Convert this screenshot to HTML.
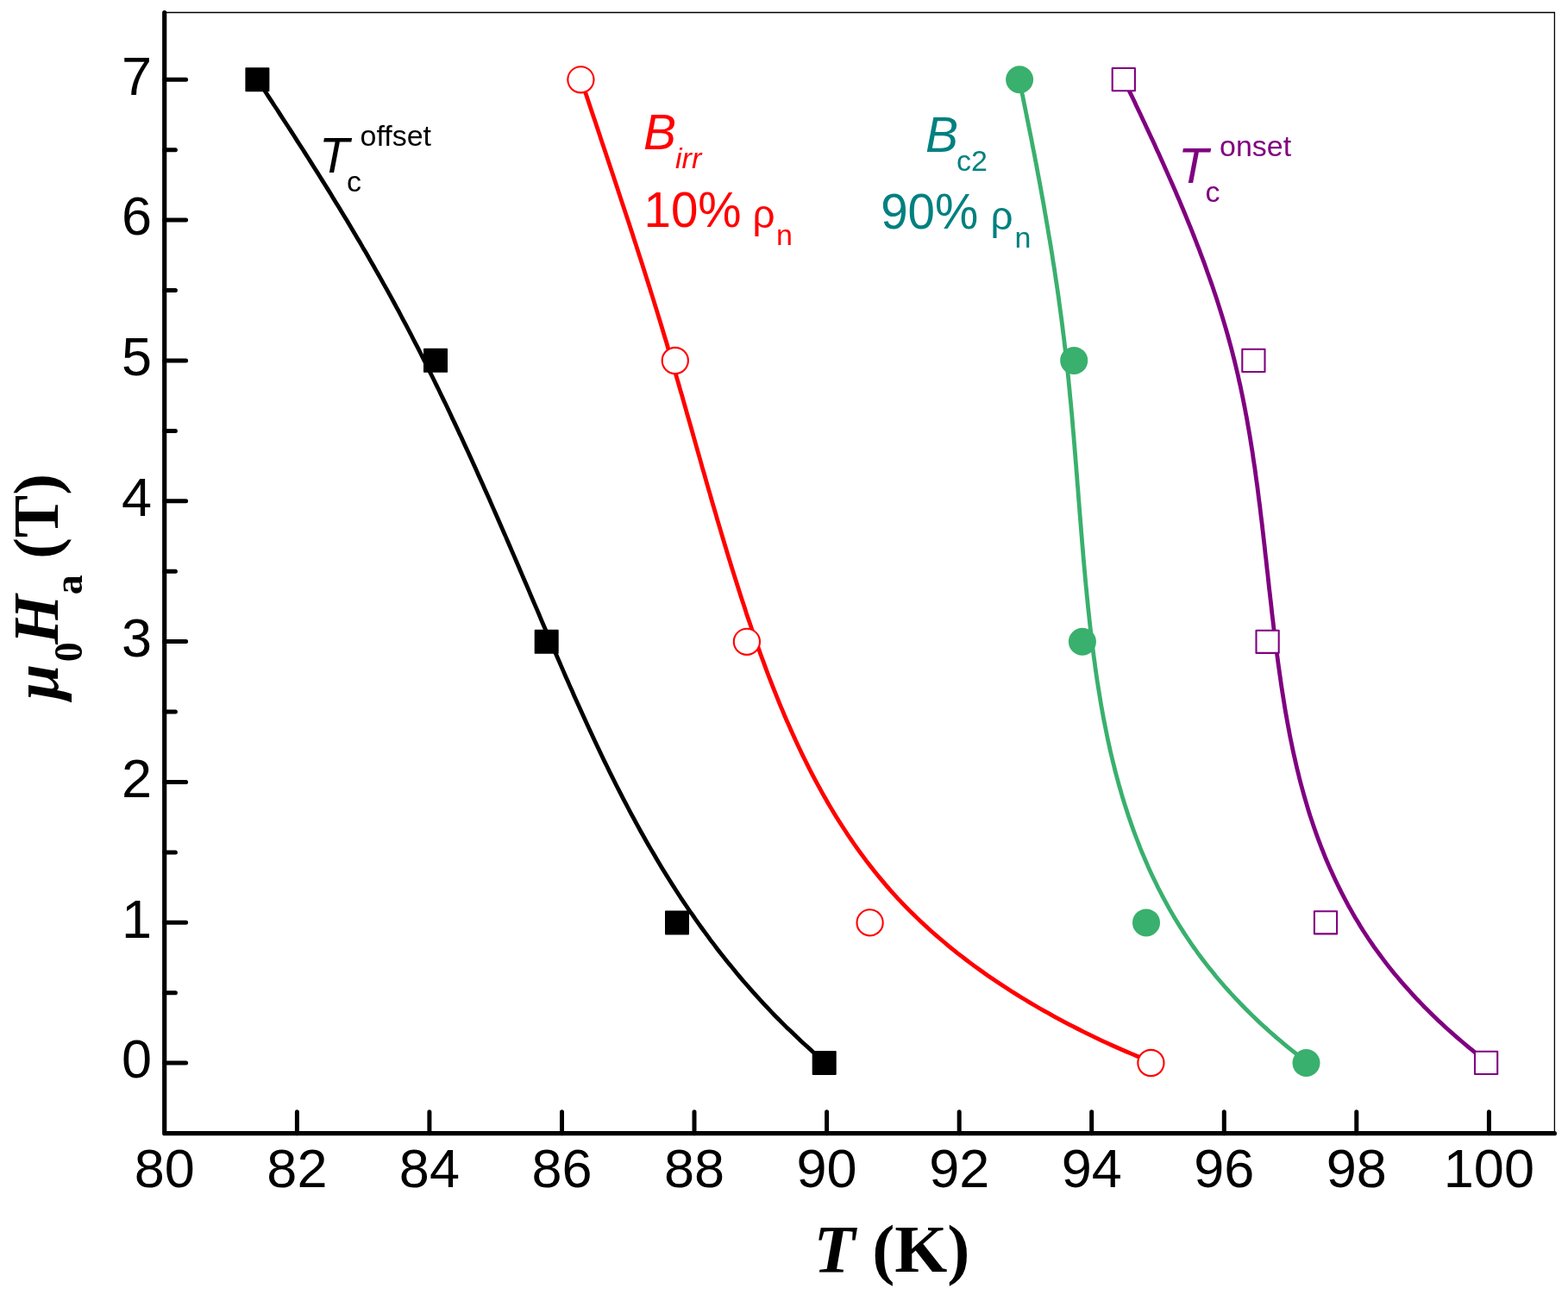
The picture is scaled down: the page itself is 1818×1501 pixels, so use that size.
<!DOCTYPE html>
<html><head><meta charset="utf-8"><title>Critical fields vs temperature</title>
<style>
html,body{margin:0;padding:0;background:#fff;}
svg{display:block;}
.s{font-family:"Liberation Sans",Arial,sans-serif;}
.r{font-family:"Liberation Serif","Times New Roman",serif;font-weight:bold;}
</style></head><body>
<svg width="1818" height="1501" viewBox="0 0 1818 1501">
<rect width="1818" height="1501" fill="#fff"/>
<path d="M190.7,14.5 H1802.4 V1313.7" fill="none" stroke="#000" stroke-width="1.3"/>
<path d="M298.4,92.2 L301.7,97.2 L305.0,102.3 L308.3,107.3 L311.6,112.4 L314.9,117.4 L318.2,122.5 L321.6,127.5 L324.8,132.6 L328.1,137.7 L331.4,142.7 L334.7,147.8 L338.0,152.9 L341.3,158.0 L344.5,163.1 L347.8,168.2 L351.1,173.3 L354.3,178.4 L357.6,183.5 L360.8,188.6 L364.0,193.7 L367.3,198.9 L370.5,204.0 L373.7,209.1 L376.9,214.3 L380.1,219.4 L383.3,224.6 L386.4,229.7 L389.6,234.9 L392.8,240.1 L395.9,245.2 L399.1,250.4 L402.2,255.6 L405.3,260.8 L408.4,266.0 L411.5,271.2 L414.6,276.4 L417.7,281.6 L420.7,286.9 L423.8,292.1 L426.8,297.3 L429.8,302.6 L432.8,307.8 L435.8,313.1 L438.8,318.3 L441.8,323.6 L444.7,328.9 L447.7,334.1 L450.6,339.4 L453.5,344.7 L456.4,350.0 L459.3,355.3 L462.2,360.7 L465.0,366.0 L467.8,371.3 L470.7,376.7 L473.5,382.0 L476.3,387.3 L479.0,392.7 L481.8,398.1 L484.6,403.4 L487.3,408.8 L490.0,414.2 L492.8,419.6 L495.5,425.0 L498.1,430.4 L500.8,435.8 L503.5,441.2 L506.1,446.6 L508.8,452.0 L511.4,457.5 L514.0,462.9 L516.7,468.3 L519.3,473.8 L521.9,479.2 L524.4,484.7 L527.0,490.1 L529.6,495.6 L532.1,501.1 L534.7,506.5 L537.2,512.0 L539.7,517.5 L542.3,523.0 L544.8,528.5 L547.3,534.0 L549.8,539.5 L552.3,545.0 L554.7,550.5 L557.2,556.0 L559.7,561.5 L562.1,567.0 L564.6,572.6 L567.1,578.1 L569.5,583.6 L571.9,589.1 L574.4,594.7 L576.8,600.2 L579.2,605.8 L581.6,611.3 L584.1,616.9 L586.5,622.4 L588.9,628.0 L591.3,633.5 L593.7,639.1 L596.1,644.6 L598.5,650.2 L600.9,655.8 L603.2,661.3 L605.6,666.9 L608.0,672.5 L610.4,678.0 L612.8,683.6 L615.1,689.2 L617.5,694.8 L619.9,700.4 L622.3,705.9 L624.7,711.5 L627.0,717.1 L629.4,722.7 L631.8,728.3 L634.2,733.8 L636.6,739.4 L639.0,745.0 L641.4,750.6 L643.8,756.2 L646.2,761.7 L648.6,767.3 L651.0,772.9 L653.4,778.4 L655.8,784.0 L658.3,789.5 L660.7,795.1 L663.2,800.6 L665.6,806.2 L668.1,811.7 L670.6,817.2 L673.1,822.8 L675.6,828.3 L678.1,833.8 L680.6,839.3 L683.1,844.8 L685.7,850.3 L688.2,855.8 L690.8,861.3 L693.4,866.7 L696.0,872.2 L698.6,877.7 L701.2,883.1 L703.9,888.5 L706.5,894.0 L709.2,899.4 L711.9,904.8 L714.6,910.2 L717.4,915.6 L720.1,920.9 L722.9,926.3 L725.7,931.7 L728.5,937.0 L731.3,942.3 L734.2,947.6 L737.0,952.9 L739.9,958.2 L742.8,963.5 L745.8,968.8 L748.7,974.0 L751.7,979.2 L754.7,984.4 L757.8,989.6 L760.8,994.8 L763.9,1000.0 L767.0,1005.2 L770.1,1010.3 L773.3,1015.4 L776.5,1020.5 L779.7,1025.6 L783.0,1030.7 L786.2,1035.7 L789.5,1040.8 L792.9,1045.8 L796.2,1050.8 L799.6,1055.8 L803.1,1060.7 L806.5,1065.7 L810.0,1070.6 L813.5,1075.5 L817.1,1080.4 L820.6,1085.2 L824.2,1090.1 L827.9,1094.9 L831.5,1099.7 L835.2,1104.5 L839.0,1109.2 L842.7,1113.9 L846.5,1118.6 L850.4,1123.3 L854.2,1128.0 L858.1,1132.6 L862.0,1137.2 L866.0,1141.8 L870.0,1146.3 L874.0,1150.8 L878.1,1155.3 L882.2,1159.8 L886.3,1164.3 L890.4,1168.7 L894.6,1173.1 L898.8,1177.5 L903.1,1181.8 L907.4,1186.1 L911.7,1190.4 L916.1,1194.6 L920.5,1198.8 L924.9,1203.0 L929.3,1207.2 L933.8,1211.3 L938.4,1215.4 L942.9,1219.5 L947.5,1223.5 L952.2,1227.5 L955.7,1232.0" fill="none" stroke="#000" stroke-width="4.8" stroke-linejoin="round" stroke-linecap="butt"/>
<path d="M673.4,92.3 L675.7,98.2 L677.7,104.2 L679.7,110.1 L681.7,116.0 L683.7,122.0 L685.7,127.9 L687.7,133.9 L689.7,139.8 L691.7,145.8 L693.7,151.7 L695.7,157.7 L697.6,163.7 L699.6,169.6 L701.6,175.6 L703.6,181.6 L705.6,187.5 L707.6,193.5 L709.6,199.5 L711.6,205.5 L713.6,211.4 L715.6,217.4 L717.5,223.4 L719.5,229.4 L721.5,235.4 L723.5,241.4 L725.4,247.3 L727.4,253.3 L729.4,259.3 L731.3,265.3 L733.3,271.3 L735.2,277.3 L737.2,283.3 L739.1,289.3 L741.0,295.3 L743.0,301.3 L744.9,307.3 L746.8,313.3 L748.7,319.3 L750.6,325.3 L752.5,331.3 L754.4,337.4 L756.3,343.4 L758.2,349.4 L760.0,355.4 L761.9,361.4 L763.7,367.4 L765.6,373.4 L767.4,379.5 L769.2,385.5 L771.0,391.5 L772.9,397.5 L774.6,403.6 L776.4,409.6 L778.2,415.6 L780.0,421.6 L781.7,427.7 L783.5,433.7 L785.2,439.7 L787.0,445.8 L788.7,451.8 L790.5,457.8 L792.2,463.8 L793.9,469.9 L795.6,475.9 L797.3,481.9 L799.1,488.0 L800.8,494.0 L802.5,500.0 L804.2,506.1 L805.9,512.1 L807.6,518.1 L809.3,524.2 L811.0,530.2 L812.7,536.2 L814.4,542.3 L816.2,548.3 L817.9,554.3 L819.6,560.4 L821.3,566.4 L823.1,572.4 L824.8,578.5 L826.5,584.5 L828.3,590.5 L830.1,596.5 L831.8,602.6 L833.6,608.6 L835.4,614.6 L837.2,620.7 L839.0,626.7 L840.8,632.7 L842.6,638.7 L844.4,644.7 L846.3,650.8 L848.1,656.8 L850.0,662.8 L851.9,668.8 L853.8,674.8 L855.7,680.8 L857.6,686.8 L859.5,692.8 L861.5,698.8 L863.5,704.8 L865.4,710.9 L867.4,716.8 L869.5,722.8 L871.5,728.8 L873.6,734.8 L875.7,740.8 L877.8,746.8 L879.9,752.8 L882.0,758.7 L884.2,764.7 L886.4,770.6 L888.6,776.6 L890.8,782.5 L893.1,788.4 L895.4,794.3 L897.7,800.2 L900.1,806.1 L902.4,811.9 L904.8,817.8 L907.3,823.6 L909.7,829.5 L912.2,835.3 L914.8,841.0 L917.3,846.8 L919.9,852.6 L922.5,858.3 L925.2,864.0 L927.9,869.7 L930.6,875.4 L933.4,881.0 L936.2,886.6 L939.0,892.2 L941.9,897.8 L944.8,903.3 L947.8,908.9 L950.8,914.4 L953.8,919.8 L956.9,925.3 L960.0,930.7 L963.2,936.1 L966.4,941.4 L969.6,946.7 L972.9,952.0 L976.3,957.3 L979.7,962.5 L983.1,967.7 L986.6,972.9 L990.1,978.0 L993.7,983.1 L997.3,988.1 L1001.0,993.1 L1004.7,998.1 L1008.5,1003.0 L1012.4,1007.9 L1016.2,1012.8 L1020.2,1017.6 L1024.2,1022.4 L1028.2,1027.1 L1032.3,1031.8 L1036.5,1036.5 L1040.7,1041.1 L1045.0,1045.6 L1049.3,1050.1 L1053.7,1054.6 L1058.2,1059.0 L1062.7,1063.4 L1067.2,1067.7 L1071.8,1072.0 L1076.4,1076.3 L1081.1,1080.5 L1085.9,1084.6 L1090.7,1088.7 L1095.5,1092.8 L1100.3,1096.8 L1105.3,1100.8 L1110.2,1104.8 L1115.2,1108.7 L1120.2,1112.5 L1125.3,1116.3 L1130.4,1120.1 L1135.5,1123.8 L1140.7,1127.5 L1145.9,1131.2 L1151.2,1134.8 L1156.4,1138.3 L1161.7,1141.8 L1167.1,1145.3 L1172.4,1148.7 L1177.8,1152.1 L1183.2,1155.5 L1188.6,1158.8 L1194.1,1162.1 L1199.5,1165.3 L1205.0,1168.5 L1210.5,1171.6 L1216.1,1174.7 L1221.6,1177.8 L1227.2,1180.8 L1232.8,1183.8 L1238.4,1186.8 L1244.0,1189.7 L1249.6,1192.5 L1255.2,1195.4 L1260.8,1198.1 L1266.5,1200.9 L1272.1,1203.6 L1277.8,1206.3 L1283.4,1208.9 L1289.1,1211.5 L1294.8,1214.0 L1300.4,1216.5 L1306.1,1219.0 L1311.8,1221.4 L1317.4,1223.8 L1323.1,1226.2 L1328.7,1228.5 L1334.4,1232.0" fill="none" stroke="#ff0000" stroke-width="4.8" stroke-linejoin="round" stroke-linecap="butt"/>
<path d="M1182.1,92.3 L1183.0,97.9 L1184.1,103.3 L1185.2,108.8 L1186.3,114.2 L1187.4,119.7 L1188.5,125.1 L1189.6,130.6 L1190.7,136.0 L1191.8,141.5 L1192.9,147.0 L1194.0,152.4 L1195.1,157.9 L1196.2,163.4 L1197.2,168.9 L1198.3,174.3 L1199.4,179.8 L1200.4,185.3 L1201.5,190.8 L1202.5,196.3 L1203.5,201.8 L1204.6,207.3 L1205.6,212.8 L1206.6,218.3 L1207.6,223.8 L1208.6,229.3 L1209.6,234.8 L1210.6,240.3 L1211.5,245.8 L1212.5,251.3 L1213.4,256.8 L1214.4,262.3 L1215.3,267.8 L1216.2,273.3 L1217.2,278.9 L1218.1,284.4 L1219.0,289.9 L1219.9,295.4 L1220.7,301.0 L1221.6,306.5 L1222.5,312.0 L1223.3,317.5 L1224.1,323.1 L1225.0,328.6 L1225.8,334.1 L1226.6,339.7 L1227.4,345.2 L1228.1,350.7 L1228.9,356.3 L1229.6,361.8 L1230.4,367.3 L1231.1,372.9 L1231.8,378.4 L1232.5,383.9 L1233.2,389.5 L1233.9,395.0 L1234.5,400.6 L1235.2,406.1 L1235.8,411.6 L1236.4,417.2 L1237.0,422.7 L1237.6,428.2 L1238.2,433.8 L1238.8,439.3 L1239.3,444.9 L1239.9,450.4 L1240.4,456.0 L1240.9,461.5 L1241.5,467.0 L1242.0,472.6 L1242.5,478.1 L1243.0,483.7 L1243.5,489.2 L1243.9,494.8 L1244.4,500.3 L1244.9,505.8 L1245.3,511.4 L1245.8,516.9 L1246.2,522.5 L1246.7,528.0 L1247.1,533.6 L1247.6,539.1 L1248.0,544.7 L1248.5,550.2 L1248.9,555.8 L1249.3,561.3 L1249.8,566.9 L1250.2,572.4 L1250.6,578.0 L1251.1,583.6 L1251.5,589.1 L1251.9,594.7 L1252.4,600.2 L1252.8,605.8 L1253.3,611.3 L1253.7,616.9 L1254.2,622.5 L1254.6,628.0 L1255.1,633.6 L1255.6,639.2 L1256.0,644.7 L1256.5,650.3 L1257.0,655.9 L1257.5,661.4 L1258.0,667.0 L1258.5,672.6 L1259.0,678.1 L1259.6,683.7 L1260.1,689.3 L1260.7,694.9 L1261.2,700.4 L1261.8,706.0 L1262.4,711.6 L1263.0,717.2 L1263.6,722.8 L1264.2,728.3 L1264.9,733.9 L1265.5,739.5 L1266.2,745.0 L1266.9,750.6 L1267.6,756.2 L1268.3,761.7 L1269.1,767.3 L1269.8,772.9 L1270.6,778.4 L1271.4,784.0 L1272.2,789.5 L1273.1,795.0 L1274.0,800.6 L1274.9,806.1 L1275.8,811.6 L1276.7,817.1 L1277.7,822.7 L1278.7,828.2 L1279.7,833.7 L1280.8,839.1 L1281.9,844.6 L1283.0,850.1 L1284.1,855.6 L1285.3,861.0 L1286.5,866.5 L1287.7,871.9 L1289.0,877.3 L1290.3,882.8 L1291.7,888.2 L1293.0,893.6 L1294.4,898.9 L1295.9,904.3 L1297.3,909.7 L1298.9,915.0 L1300.4,920.4 L1302.0,925.7 L1303.6,931.0 L1305.3,936.3 L1307.0,941.6 L1308.8,946.9 L1310.6,952.1 L1312.4,957.4 L1314.3,962.6 L1316.2,967.8 L1318.2,973.0 L1320.2,978.2 L1322.2,983.4 L1324.3,988.5 L1326.5,993.6 L1328.7,998.8 L1330.9,1003.9 L1333.2,1008.9 L1335.5,1014.0 L1337.9,1019.0 L1340.4,1024.0 L1342.8,1029.0 L1345.4,1034.0 L1347.9,1038.9 L1350.6,1043.8 L1353.2,1048.7 L1355.9,1053.6 L1358.7,1058.4 L1361.5,1063.2 L1364.4,1068.0 L1367.3,1072.7 L1370.3,1077.4 L1373.3,1082.1 L1376.4,1086.8 L1379.5,1091.4 L1382.6,1096.0 L1385.9,1100.5 L1389.1,1105.1 L1392.4,1109.5 L1395.8,1114.0 L1399.2,1118.4 L1402.7,1122.8 L1406.2,1127.1 L1409.7,1131.5 L1413.3,1135.7 L1417.0,1140.0 L1420.6,1144.2 L1424.4,1148.4 L1428.1,1152.5 L1431.9,1156.6 L1435.8,1160.7 L1439.7,1164.7 L1443.6,1168.7 L1447.6,1172.7 L1451.6,1176.6 L1455.6,1180.5 L1459.7,1184.4 L1463.8,1188.2 L1467.9,1191.9 L1472.1,1195.7 L1476.3,1199.4 L1480.5,1203.1 L1484.8,1206.7 L1489.1,1210.3 L1493.4,1213.9 L1497.8,1217.4 L1502.2,1220.9 L1506.6,1224.3 L1511.0,1227.7 L1514.5,1232.0" fill="none" stroke="#39b06d" stroke-width="4.8" stroke-linejoin="round" stroke-linecap="butt"/>
<path d="M1302.8,92.1 L1305.5,97.3 L1307.9,102.4 L1310.3,107.4 L1312.8,112.5 L1315.2,117.6 L1317.6,122.7 L1320.0,127.8 L1322.4,132.8 L1324.8,138.0 L1327.2,143.1 L1329.6,148.2 L1332.0,153.3 L1334.4,158.5 L1336.8,163.6 L1339.2,168.8 L1341.5,173.9 L1343.9,179.1 L1346.2,184.3 L1348.6,189.5 L1350.9,194.7 L1353.2,199.9 L1355.5,205.1 L1357.8,210.3 L1360.1,215.5 L1362.4,220.7 L1364.6,226.0 L1366.9,231.2 L1369.1,236.5 L1371.3,241.7 L1373.5,247.0 L1375.7,252.3 L1377.8,257.6 L1380.0,262.9 L1382.1,268.2 L1384.2,273.5 L1386.3,278.8 L1388.3,284.1 L1390.4,289.4 L1392.4,294.8 L1394.4,300.1 L1396.4,305.4 L1398.3,310.8 L1400.2,316.2 L1402.1,321.5 L1404.0,326.9 L1405.9,332.3 L1407.7,337.7 L1409.5,343.1 L1411.3,348.5 L1413.0,353.9 L1414.7,359.3 L1416.4,364.7 L1418.1,370.2 L1419.7,375.6 L1421.3,381.0 L1422.9,386.5 L1424.4,392.0 L1425.9,397.4 L1427.4,402.9 L1428.8,408.4 L1430.2,413.8 L1431.6,419.3 L1432.9,424.8 L1434.2,430.3 L1435.5,435.8 L1436.7,441.4 L1438.0,446.9 L1439.1,452.4 L1440.3,457.9 L1441.4,463.5 L1442.5,469.0 L1443.6,474.6 L1444.6,480.1 L1445.7,485.7 L1446.6,491.2 L1447.6,496.8 L1448.6,502.4 L1449.5,507.9 L1450.4,513.5 L1451.3,519.1 L1452.2,524.7 L1453.0,530.3 L1453.8,535.9 L1454.7,541.5 L1455.5,547.1 L1456.2,552.7 L1457.0,558.3 L1457.8,563.9 L1458.5,569.5 L1459.2,575.2 L1459.9,580.8 L1460.7,586.4 L1461.3,592.1 L1462.0,597.7 L1462.7,603.3 L1463.4,609.0 L1464.0,614.6 L1464.7,620.3 L1465.3,625.9 L1466.0,631.6 L1466.6,637.2 L1467.2,642.9 L1467.9,648.5 L1468.5,654.2 L1469.1,659.8 L1469.8,665.5 L1470.4,671.2 L1471.0,676.8 L1471.6,682.5 L1472.3,688.1 L1472.9,693.8 L1473.6,699.5 L1474.2,705.1 L1474.8,710.8 L1475.5,716.5 L1476.2,722.2 L1476.8,727.8 L1477.5,733.5 L1478.2,739.2 L1478.9,744.8 L1479.6,750.5 L1480.3,756.2 L1481.1,761.8 L1481.8,767.5 L1482.6,773.1 L1483.4,778.8 L1484.2,784.4 L1485.0,790.1 L1485.8,795.7 L1486.7,801.4 L1487.6,807.0 L1488.5,812.6 L1489.4,818.3 L1490.3,823.9 L1491.3,829.5 L1492.3,835.1 L1493.3,840.7 L1494.4,846.3 L1495.4,851.9 L1496.5,857.4 L1497.7,863.0 L1498.8,868.5 L1500.0,874.1 L1501.3,879.6 L1502.5,885.1 L1503.8,890.7 L1505.2,896.2 L1506.5,901.7 L1507.9,907.1 L1509.4,912.6 L1510.9,918.1 L1512.4,923.5 L1514.0,928.9 L1515.6,934.4 L1517.2,939.8 L1518.9,945.2 L1520.7,950.5 L1522.5,955.9 L1524.3,961.2 L1526.2,966.6 L1528.1,971.9 L1530.1,977.2 L1532.1,982.5 L1534.2,987.7 L1536.3,993.0 L1538.5,998.2 L1540.7,1003.4 L1543.0,1008.6 L1545.4,1013.7 L1547.7,1018.9 L1550.2,1024.0 L1552.7,1029.1 L1555.2,1034.1 L1557.8,1039.2 L1560.4,1044.2 L1563.1,1049.2 L1565.9,1054.1 L1568.7,1059.1 L1571.5,1064.0 L1574.5,1068.8 L1577.4,1073.7 L1580.4,1078.5 L1583.5,1083.2 L1586.6,1088.0 L1589.8,1092.7 L1593.0,1097.3 L1596.3,1101.9 L1599.7,1106.5 L1603.1,1111.1 L1606.5,1115.6 L1610.0,1120.1 L1613.5,1124.5 L1617.1,1128.9 L1620.8,1133.3 L1624.4,1137.6 L1628.2,1141.9 L1632.0,1146.2 L1635.8,1150.4 L1639.6,1154.6 L1643.5,1158.8 L1647.5,1162.9 L1651.4,1167.0 L1655.5,1171.0 L1659.5,1175.0 L1663.6,1179.0 L1667.7,1182.9 L1671.9,1186.8 L1676.1,1190.7 L1680.3,1194.5 L1684.6,1198.3 L1688.9,1202.1 L1693.2,1205.8 L1697.6,1209.5 L1701.9,1213.1 L1706.3,1216.7 L1710.8,1220.3 L1715.2,1223.8 L1719.7,1227.3 L1723.1,1231.9" fill="none" stroke="#800080" stroke-width="4.8" stroke-linejoin="round" stroke-linecap="butt"/>
<rect x="285.3" y="79.1" width="26.2" height="26.2" fill="#000" stroke="#000" stroke-width="1.8" stroke-linejoin="round"/>
<rect x="491.9" y="404.7" width="26.2" height="26.2" fill="#000" stroke="#000" stroke-width="1.8" stroke-linejoin="round"/>
<rect x="620.6" y="730.7" width="26.2" height="26.2" fill="#000" stroke="#000" stroke-width="1.8" stroke-linejoin="round"/>
<rect x="771.9" y="1056.3" width="26.2" height="26.2" fill="#000" stroke="#000" stroke-width="1.8" stroke-linejoin="round"/>
<rect x="942.6" y="1218.8" width="26.2" height="26.2" fill="#000" stroke="#000" stroke-width="1.8" stroke-linejoin="round"/>
<circle cx="673.4" cy="92.3" r="15.1" fill="#fff" stroke="#ff0000" stroke-width="2.1"/>
<circle cx="782.8" cy="418.0" r="15.1" fill="#fff" stroke="#ff0000" stroke-width="2.1"/>
<circle cx="865.9" cy="743.8" r="15.1" fill="#fff" stroke="#ff0000" stroke-width="2.1"/>
<circle cx="1008.6" cy="1069.4" r="15.1" fill="#fff" stroke="#ff0000" stroke-width="2.1"/>
<circle cx="1334.4" cy="1232.0" r="15.1" fill="#fff" stroke="#ff0000" stroke-width="2.1"/>
<circle cx="1182.1" cy="92.3" r="16.0" fill="#39b06d"/>
<circle cx="1245.2" cy="417.9" r="16.0" fill="#39b06d"/>
<circle cx="1254.9" cy="743.8" r="16.0" fill="#39b06d"/>
<circle cx="1329.0" cy="1069.4" r="16.0" fill="#39b06d"/>
<circle cx="1514.5" cy="1232.0" r="16.0" fill="#39b06d"/>
<rect x="1289.7" y="79.0" width="26.2" height="26.2" fill="#fff" stroke="#800080" stroke-width="2.1" stroke-linejoin="round"/>
<rect x="1440.3" y="404.8" width="26.2" height="26.2" fill="#fff" stroke="#800080" stroke-width="2.1" stroke-linejoin="round"/>
<rect x="1456.5" y="730.7" width="26.2" height="26.2" fill="#fff" stroke="#800080" stroke-width="2.1" stroke-linejoin="round"/>
<rect x="1523.9" y="1056.2" width="26.2" height="26.2" fill="#fff" stroke="#800080" stroke-width="2.1" stroke-linejoin="round"/>
<rect x="1710.0" y="1218.8" width="26.2" height="26.2" fill="#fff" stroke="#800080" stroke-width="2.1" stroke-linejoin="round"/>
<path d="M190.7,1232.1 H215.6 M190.7,1069.3 H215.6 M190.7,906.4 H215.6 M190.7,743.6 H215.6 M190.7,580.8 H215.6 M190.7,417.9 H215.6 M190.7,255.1 H215.6 M190.7,92.3 H215.6 M190.7,1150.7 H203.4 M190.7,987.9 H203.4 M190.7,825.0 H203.4 M190.7,662.2 H203.4 M190.7,499.4 H203.4 M190.7,336.5 H203.4 M190.7,173.7 H203.4 M344.4,1313.7 V1288.8 M497.9,1313.7 V1288.8 M651.5,1313.7 V1288.8 M805.0,1313.7 V1288.8 M958.6,1313.7 V1288.8 M1112.2,1313.7 V1288.8 M1265.7,1313.7 V1288.8 M1419.3,1313.7 V1288.8 M1572.8,1313.7 V1288.8 M1726.4,1313.7 V1288.8" fill="none" stroke="#000" stroke-width="5" stroke-linecap="round"/>
<path d="M190.7,14.5 V1313.7 H1802.4" fill="none" stroke="#000" stroke-width="5.2" stroke-linecap="round" stroke-linejoin="round"/>
<text class="s" x="176.1" y="1249.3" font-size="63" text-anchor="end">0</text>
<text class="s" x="176.1" y="1086.5" font-size="63" text-anchor="end">1</text>
<text class="s" x="176.1" y="923.6" font-size="63" text-anchor="end">2</text>
<text class="s" x="176.1" y="760.8" font-size="63" text-anchor="end">3</text>
<text class="s" x="176.1" y="598.0" font-size="63" text-anchor="end">4</text>
<text class="s" x="176.1" y="435.1" font-size="63" text-anchor="end">5</text>
<text class="s" x="176.1" y="272.3" font-size="63" text-anchor="end">6</text>
<text class="s" x="176.1" y="109.5" font-size="63" text-anchor="end">7</text>
<text class="s" x="190.8" y="1375.6" font-size="63" text-anchor="middle">80</text>
<text class="s" x="344.4" y="1375.6" font-size="63" text-anchor="middle">82</text>
<text class="s" x="497.9" y="1375.6" font-size="63" text-anchor="middle">84</text>
<text class="s" x="651.5" y="1375.6" font-size="63" text-anchor="middle">86</text>
<text class="s" x="805.0" y="1375.6" font-size="63" text-anchor="middle">88</text>
<text class="s" x="958.6" y="1375.6" font-size="63" text-anchor="middle">90</text>
<text class="s" x="1112.2" y="1375.6" font-size="63" text-anchor="middle">92</text>
<text class="s" x="1265.7" y="1375.6" font-size="63" text-anchor="middle">94</text>
<text class="s" x="1419.3" y="1375.6" font-size="63" text-anchor="middle">96</text>
<text class="s" x="1572.8" y="1375.6" font-size="63" text-anchor="middle">98</text>
<text class="s" x="1726.4" y="1375.6" font-size="63" text-anchor="middle">100</text>
<text class="r" x="943.6" y="1473.5" font-size="78.5"><tspan font-style="italic">T</tspan> (K)</text>
<text class="r" transform="translate(67,811) rotate(-90)" font-size="74"><tspan font-style="italic">μ</tspan><tspan font-size="46" dx="2.5" dy="28">0</tspan><tspan font-style="italic" dx="-2.5" dy="-28">H</tspan><tspan font-size="46" dy="28">a</tspan><tspan dy="-28"> (T)</tspan></text>
<g class="s" font-size="57">
<text x="370" y="200" font-style="italic">T</text><text x="402" y="222" font-size="34">c</text><text x="417.5" y="169" font-size="34">offset</text>
<g fill="#ff0000"><text x="746" y="172.8" font-style="italic">B</text><text x="783" y="195" font-size="34" font-style="italic">irr</text><text x="746.5" y="262.7" font-size="56.5">10%</text><text x="872.6" y="264" font-size="45.8">ρ</text><text x="900" y="283.7" font-size="34">n</text></g>
<g fill="#008080"><text x="1073" y="175.8" font-style="italic">B</text><text x="1109" y="198" font-size="34">c2</text><text x="1021.2" y="265.2" font-size="56.5">90%</text><text x="1148.6" y="265.8" font-size="45.8">ρ</text><text x="1176.5" y="286.7" font-size="34">n</text></g>
<g fill="#800080"><text x="1366" y="211.7" font-style="italic">T</text><text x="1397.5" y="234" font-size="34">c</text><text x="1414" y="181" font-size="34">onset</text></g>
</g>
</svg></body></html>
